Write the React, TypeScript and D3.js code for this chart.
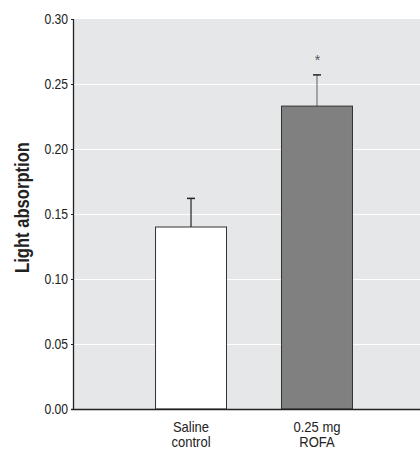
import React, { useEffect, useRef } from "react";
import * as d3 from "d3";

const categories = ["Saline control", "0.25 mg ROFA"];
const labelLines = [["Saline", "control"], ["0.25 mg", "ROFA"]];
const means = [0.14, 0.233];
const errors = [0.022, 0.024];
const significant = [false, true];
const yTicks = [0, 0.05, 0.1, 0.15, 0.2, 0.25, 0.3];

const FONT = "'Liberation Sans', Arial, sans-serif";

// condensed look: horizontally squeezed text
const squeezed = (
  parent: d3.Selection<any, unknown, null, undefined>,
  x: number,
  y: number,
  txt: string,
  size: number,
  sx: number,
  anchor: string,
  extra = ""
) => {
  const t = parent
    .append("g")
    .attr("transform", `translate(${x},${y}) ${extra} scale(${sx},1)`)
    .append("text")
    .attr("text-anchor", anchor)
    .attr("font-family", FONT)
    .attr("font-size", size)
    .attr("fill", "#222")
    .text(txt);
  return t;
};

const App = () => {
  const ref = useRef<SVGSVGElement>(null);

  useEffect(() => {
    const width = 420;
    const height = 450;
    const margin = { top: 19, left: 73, bottom: 41 };
    const svg = d3.select(ref.current);
    svg.selectAll("*").remove();

    const y = d3
      .scaleLinear()
      .domain([0, 0.3])
      .range([height - margin.bottom, margin.top]);

    // plot continues past the right edge of the picture
    const x = d3
      .scaleBand()
      .domain(categories)
      .range([margin.left, 435])
      .paddingInner(0.4365)
      .paddingOuter(0.655);

    svg
      .append("rect")
      .attr("x", margin.left)
      .attr("y", margin.top)
      .attr("width", width - margin.left)
      .attr("height", y(0) - margin.top)
      .attr("fill", "#e6e7e9");

    // white gridlines
    svg
      .append("g")
      .selectAll("line")
      .data(yTicks.filter((t) => t > 0 && t < 0.3))
      .join("line")
      .attr("x1", margin.left)
      .attr("x2", width)
      .attr("y1", (d) => Math.round(y(d)) + 0.5)
      .attr("y2", (d) => Math.round(y(d)) + 0.5)
      .attr("stroke", "#fff")
      .attr("stroke-width", 1.2);

    const g = svg.append("g");
    categories.forEach((c, i) => {
      const x0 = x(c)!;
      const cx = x0 + x.bandwidth() / 2;
      const top = y(means[i] + errors[i]);
      g.append("line")
        .attr("x1", cx)
        .attr("x2", cx)
        .attr("y1", y(means[i]))
        .attr("y2", top)
        .attr("stroke", i === 0 ? "#222" : "#777")
        .attr("stroke-width", 1.2);
      g.append("line")
        .attr("x1", cx - 4)
        .attr("x2", cx + 4)
        .attr("y1", top)
        .attr("y2", top)
        .attr("stroke", "#222")
        .attr("stroke-width", 1.5);
      g.append("rect")
        .attr("x", x0)
        .attr("y", y(means[i]))
        .attr("width", x.bandwidth())
        .attr("height", y(0) - y(means[i]))
        .attr("fill", i === 0 ? "#fff" : "#808080")
        .attr("stroke", "#333")
        .attr("stroke-width", 1);
      if (significant[i]) {
        squeezed(g, cx + 0.5, top - 10, "*", 14, 1, "middle").attr("fill", "#555");
      }
      labelLines[i].forEach((t, j) => {
        squeezed(g, cx, 432 + j * 14.5, t, 14, 0.93, "middle");
      });
    });

    // y axis line, ticks and labels
    svg
      .append("line")
      .attr("x1", margin.left + 0.5)
      .attr("x2", margin.left + 0.5)
      .attr("y1", y(0.3))
      .attr("y2", y(0))
      .attr("stroke", "#222")
      .attr("stroke-width", 1.3);
    const yl = svg.append("g");
    yTicks.forEach((t) => {
      yl.append("line")
        .attr("x1", margin.left - 2)
        .attr("x2", margin.left)
        .attr("y1", y(t) + 0.5)
        .attr("y2", y(t) + 0.5)
        .attr("stroke", "#222");
      squeezed(yl, margin.left - 5, y(t) + 4.5, d3.format(".2f")(t), 15, 0.81, "end");
    });

    svg
      .append("line")
      .attr("x1", margin.left - 2)
      .attr("x2", width)
      .attr("y1", y(0) + 0.5)
      .attr("y2", y(0) + 0.5)
      .attr("stroke", "#222")
      .attr("stroke-width", 1.3);

    squeezed(svg, 29, 207.5, "Light absorption", 20, 0.83, "middle", "rotate(-90)").attr(
      "font-weight",
      "bold"
    );
  }, []);

  return (
    <svg
      ref={ref}
      width={420}
      height={450}
      style={{ position: "absolute", left: 0, top: 0, background: "#fff" }}
    />
  );
};

export default App;
